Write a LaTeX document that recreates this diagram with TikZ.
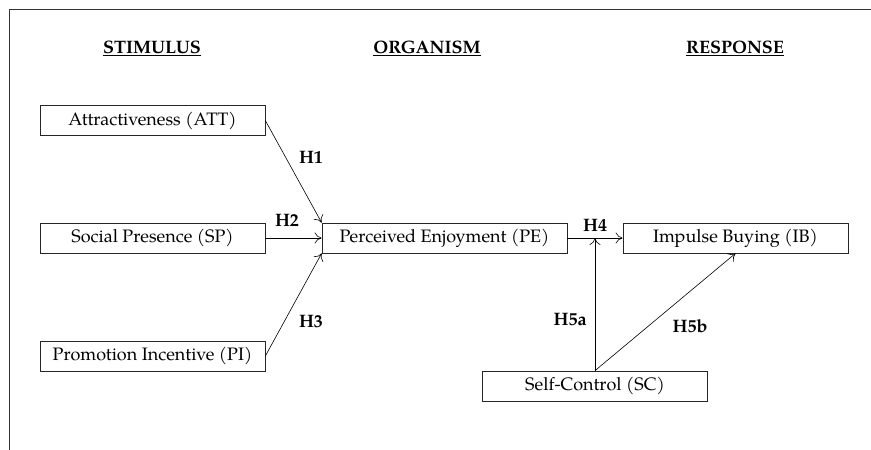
\documentclass[tikz,border=0pt]{standalone}
\usepackage{fontspec}
\setmainfont{TeX Gyre Pagella}
\usetikzlibrary{arrows.meta}

\tikzset{
	box/.style={draw=black!85, line width=0.7pt, minimum width=225pt, minimum height=30pt, inner sep=0pt, font=\fontsize{18}{20}\selectfont},
	head/.style={font=\fontsize{18}{20}\selectfont\bfseries},
	hyp/.style={font=\fontsize{18}{20}\selectfont\bfseries},
	link/.style={line width=0.6pt, -{To[length=7pt,width=11pt]}},
}

\begin{document}
\begin{tikzpicture}[x=1pt, y=-1pt]
		\useasboundingbox (0, 0) rectangle (871, 450);
		\draw[line width=1pt, black!80] (9.5, 450) -- (9.5, 9) -- (871, 9);
		% column headings
		\node[head] (stim) at (152, 48) {\underline{STIMULUS}};
		\node[head] (org) at (427, 48) {\underline{ORGANISM}};
		\node[head] (resp) at (735, 48) {\underline{RESPONSE}};
		% constructs
		\node[box] (att) at (152.5, 120.5) {Attractiveness (ATT)};
		\node[box] (sp) at (152.5, 238) {Social Presence (SP)};
		\node[box] (pi) at (152.5, 356) {Promotion Incentive (PI)};
		\node[box, minimum width=245pt] (pe) at (444.5, 238) {Perceived Enjoyment (PE)};
		\node[box] (ib) at (735.5, 238) {Impulse Buying (IB)};
		\node[box] (sc) at (595, 386) {Self-Control (SC)};
		\coordinate (mod) at (sc.north |- pe.east);
		% paths
		\draw[link] (att.east) -- (pe.north west);
		\draw[link] (sp.east) -- (pe.west);
		\draw[link] (pi.east) -- (pe.south west);
		\draw[link] (pe.east) -- (ib.west);
		\draw[link] (sc.north) -- (mod);
		\draw[link] (sc.north) -- (ib.south);
		% hypotheses
		\node[hyp] (h1) at (311, 157) {H1};
		\node[hyp] (h2) at (287, 220) {H2};
		\node[hyp] (h3) at (311, 322) {H3};
		\node[hyp] (h4) at (595, 225) {H4};
		\node[hyp] (h5a) at (570, 320) {H5a};
		\node[hyp] (h5b) at (690, 326) {H5b};
	\end{tikzpicture}
\end{document}
